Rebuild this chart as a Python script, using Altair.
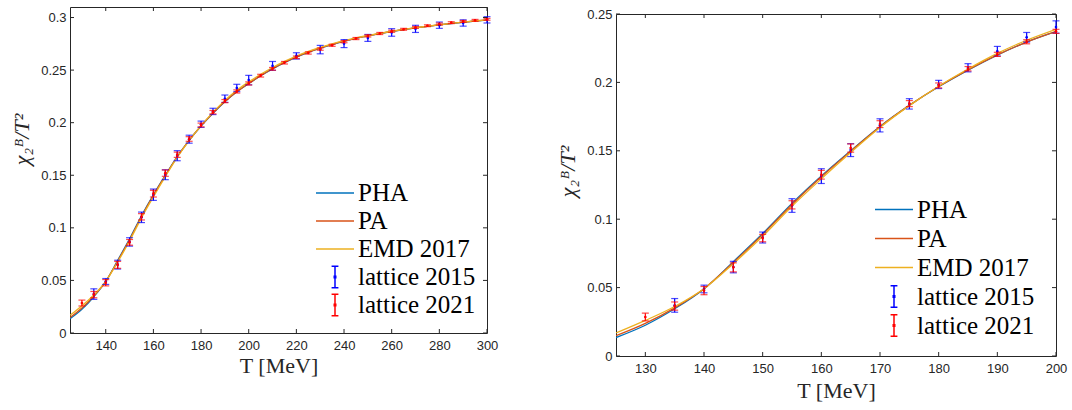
import altair as alt
import pandas as pd

# ---------------- data ----------------
T_curve = [125, 130, 135, 140, 145, 150, 155, 160, 165, 170, 175, 180, 185, 190, 195, 200,
           205, 210, 215, 220, 225, 230, 235, 240, 245, 250, 255, 260, 265, 270, 275, 280,
           285, 290, 295, 300]
pha = [0.0135, 0.0225, 0.0345, 0.0490, 0.0690, 0.0895, 0.1115, 0.1315, 0.1500, 0.1678,
       0.1832, 0.1968, 0.2090, 0.2200, 0.2295, 0.2372, 0.2446, 0.2512, 0.2571, 0.2624,
       0.2669, 0.2708, 0.2743, 0.2774, 0.2801, 0.2825, 0.2847, 0.2867, 0.2885, 0.2901,
       0.2916, 0.2930, 0.2943, 0.2955, 0.2966, 0.2976]
pa = [0.0148, 0.0238, 0.0352, 0.0492, 0.0684, 0.0888, 0.1108, 0.1310, 0.1497, 0.1676,
      0.1832, 0.1970, 0.2092, 0.2201, 0.2295, 0.2373, 0.2447, 0.2513, 0.2572, 0.2625,
      0.2670, 0.2709, 0.2744, 0.2775, 0.2802, 0.2826, 0.2848, 0.2868, 0.2886, 0.2902,
      0.2917, 0.2931, 0.2944, 0.2956, 0.2967, 0.2977]
emd = [0.0168, 0.0260, 0.0362, 0.0492, 0.0675, 0.0875, 0.1095, 0.1295, 0.1487, 0.1670,
       0.1830, 0.1972, 0.2098, 0.2212, 0.2308, 0.2388, 0.2460, 0.2525, 0.2583, 0.2634,
       0.2678, 0.2716, 0.2750, 0.2780, 0.2806, 0.2829, 0.2850, 0.2869, 0.2887, 0.2903,
       0.2917, 0.2931, 0.2944, 0.2956, 0.2967, 0.2978]

T_2015 = [135, 140, 145, 150, 155, 160, 165, 170, 175, 180, 185, 190, 195, 200,
          210, 220, 230, 240, 250, 260, 270, 280, 290, 300]
v_2015 = [0.0370, 0.0490, 0.0650, 0.0866, 0.1100, 0.1315, 0.1505, 0.1686, 0.1843, 0.1985,
          0.2107, 0.2228, 0.2330, 0.2405, 0.2540, 0.2635, 0.2695, 0.2752, 0.2806, 0.2858,
          0.2892, 0.2927, 0.2948, 0.2978]
e_2015 = [0.0050, 0.0028, 0.0042, 0.0040, 0.0050, 0.0054, 0.0047, 0.0048, 0.0038, 0.0030,
          0.0030, 0.0035, 0.0035, 0.0045, 0.0042, 0.0030, 0.0040, 0.0038, 0.0033, 0.0036,
          0.0034, 0.0030, 0.0030, 0.0030]

T_2021 = [130, 135, 140, 145, 150, 155, 160, 165, 170, 175, 180, 185, 190, 195, 200,
          205, 210, 215, 220, 225, 230, 235, 240, 245, 250, 255, 260, 265, 270, 275, 280,
          285, 290, 295, 300]
v_2021 = [0.0285, 0.0365, 0.0478, 0.0648, 0.0862, 0.1105, 0.1325, 0.1520, 0.1695, 0.1845,
          0.1978, 0.2100, 0.2205, 0.2297, 0.2373, 0.2447, 0.2512, 0.2570, 0.2622, 0.2663,
          0.2700, 0.2736, 0.2770, 0.2800, 0.2825, 0.2848, 0.2869, 0.2888, 0.2906, 0.2922,
          0.2938, 0.2951, 0.2963, 0.2973, 0.2983]
e_2021 = [0.0028, 0.0030, 0.0030, 0.0033, 0.0027, 0.0030, 0.0032, 0.0030, 0.0025, 0.0022,
          0.0018, 0.0016, 0.0015, 0.0015, 0.0015, 0.0013, 0.0013, 0.0012, 0.0012, 0.0011,
          0.0011, 0.0010, 0.0010, 0.0010, 0.0010, 0.0010, 0.0010, 0.0009, 0.0009, 0.0009,
          0.0009, 0.0009, 0.0009, 0.0009, 0.0009]

series_names = ["PHA", "PA", "EMD 2017", "lattice 2015", "lattice 2021"]
series_colors = ["#0072BD", "#D95319", "#EDB120", "#0000FF", "#FF0000"]
LINE_PATH = "M-1,0H1"
ERRBAR_PATH = ("M-0.18,-0.56H0.18M0,-0.56V0.56M-0.18,0.56H0.18"
               "M-0.04,-0.04H0.04V0.04H-0.04Z")
legend_shapes = [LINE_PATH, LINE_PATH, LINE_PATH, ERRBAR_PATH, ERRBAR_PATH]

# ---------------- tables ----------------
curves = pd.DataFrame({"T": T_curve * 3,
                       "val": pha + pa + emd,
                       "series": ["PHA"] * len(T_curve) + ["PA"] * len(T_curve)
                       + ["EMD 2017"] * len(T_curve)})
lat15 = pd.DataFrame({"T": T_2015, "val": v_2015,
                      "lo": [v - e for v, e in zip(v_2015, e_2015)],
                      "hi": [v + e for v, e in zip(v_2015, e_2015)]})
lat21 = pd.DataFrame({"T": T_2021, "val": v_2021,
                      "lo": [v - e for v, e in zip(v_2021, e_2021)],
                      "hi": [v + e for v, e in zip(v_2021, e_2021)]})
legend_df = pd.DataFrame({"series": series_names})

FRAME = "#262626"


def panel(xdom, ydom, xticks, yticks, W, H, legx, legy, rowh, ytitle_y, xtitle_pad):
    xs = alt.Scale(domain=xdom, nice=False, zero=False)
    ys = alt.Scale(domain=ydom, nice=False, zero=False)
    xaxis = alt.Axis(values=xticks, title="T [MeV]", labelPadding=6, titlePadding=xtitle_pad,
                     titleFontSize=22, labelFlush=False)
    yaxis = alt.Axis(values=yticks, title="χ₂ᴮ/T²", format="~g", labelPadding=4,
                     titlePadding=7, titleFontSize=22, titleFontStyle="italic",
                     titleY=ytitle_y)
    X = lambda f="T": alt.X(f"{f}:Q", scale=xs, axis=xaxis, title="T [MeV]")
    Y = lambda f="val": alt.Y(f"{f}:Q", scale=ys, axis=yaxis, title="χ₂ᴮ/T²")

    layers = []
    for name, col in zip(series_names[:3], series_colors[:3]):
        lc = alt.Chart(curves).transform_filter(alt.datum.series == name).mark_line(
            color=col, strokeWidth=1.3, clip=True, interpolate="monotone").encode(
            x=X(), y=Y())
        layers.append(lc)

    for df, col in [(lat15, series_colors[3]), (lat21, series_colors[4])]:
        base = alt.Chart(df).transform_filter(
            (alt.datum.T >= xdom[0]) & (alt.datum.T <= xdom[1]))
        layers.append(base.mark_rule(color=col, strokeWidth=1.2).encode(
            x=X(), y=Y("lo"), y2="hi:Q"))
        layers.append(base.mark_tick(color=col, orient="horizontal", size=7,
                                     thickness=1.2).encode(x=X(), y=Y("lo")))
        layers.append(base.mark_tick(color=col, orient="horizontal", size=7,
                                     thickness=1.2).encode(x=X(), y=Y("hi")))
        layers.append(base.mark_circle(color=col, size=7, opacity=1).encode(
            x=X(), y=Y("val")))

    # inward ticks on all four sides
    xt = pd.DataFrame({"T": xticks})
    yt = pd.DataFrame({"val": yticks})
    tl = 4
    layers.append(alt.Chart(xt).mark_rule(color=FRAME, strokeWidth=1).encode(
        x=X(), y=alt.value(H), y2=alt.value(H - tl)))
    layers.append(alt.Chart(xt).mark_rule(color=FRAME, strokeWidth=1).encode(
        x=X(), y=alt.value(0), y2=alt.value(tl)))
    layers.append(alt.Chart(yt).mark_rule(color=FRAME, strokeWidth=1).encode(
        y=Y(), x=alt.value(0), x2=alt.value(tl)))
    layers.append(alt.Chart(yt).mark_rule(color=FRAME, strokeWidth=1).encode(
        y=Y(), x=alt.value(W), x2=alt.value(W - tl)))

    # legend carrier (draws nothing)
    leg = alt.Legend(title=None, orient="none", legendX=legx, legendY=legy,
                     symbolSize=1444, symbolStrokeWidth=1.5, labelFont="Liberation Serif",
                     labelFontSize=25, labelColor="black", labelOffset=3,
                     rowPadding=0, clipHeight=rowh, padding=0,
                     symbolFillColor="transparent", symbolOpacity=1)
    layers.append(alt.Chart(legend_df).transform_filter("false").mark_point(
        filled=False, opacity=1).encode(
        color=alt.Color("series:N", scale=alt.Scale(domain=series_names,
                                                    range=series_colors), legend=leg),
        shape=alt.Shape("series:N", scale=alt.Scale(domain=series_names,
                                                    range=legend_shapes), legend=leg)))

    return alt.layer(*layers).properties(width=W, height=H)


left = panel([125, 300], [0, 0.31], [140, 160, 180, 200, 220, 240, 260, 280, 300],
             [0, 0.05, 0.1, 0.15, 0.2, 0.25, 0.3], 417, 326, 245, 172, 28, 132, 3)
right = panel([125, 200], [0, 0.25], [130, 140, 150, 160, 170, 180, 190, 200],
              [0, 0.05, 0.1, 0.15, 0.2, 0.25], 440, 342, 258, 188, 29, 157, 5)

# invisible spacer that lowers the right panel a little
spacer = alt.Chart(pd.DataFrame({"a": [0]})).mark_point(size=0, opacity=0).encode(
    x=alt.value(0), y=alt.value(0)).properties(
    width=440, height=1, view=alt.ViewConfig(stroke="transparent"))
right_col = alt.vconcat(spacer, right, spacing=-2)

chart = alt.concat(left, right_col, columns=2, spacing=57).resolve_scale(
    color="independent", shape="independent", x="independent", y="independent"
).resolve_legend(color="independent", shape="independent").properties(
    padding={"left": 10, "top": 6, "right": 2, "bottom": 5}, background="white"
).configure_view(stroke=FRAME, strokeWidth=1).configure_axis(
    domain=False, ticks=False, grid=False, labelFont="Liberation Sans", labelFontSize=13,
    labelColor="#262626", titleFont="Liberation Serif", titleFontWeight="normal",
    titleColor="#262626"
)

chart.save("out.html", embed_options={"renderer": "svg", "actions": False})
